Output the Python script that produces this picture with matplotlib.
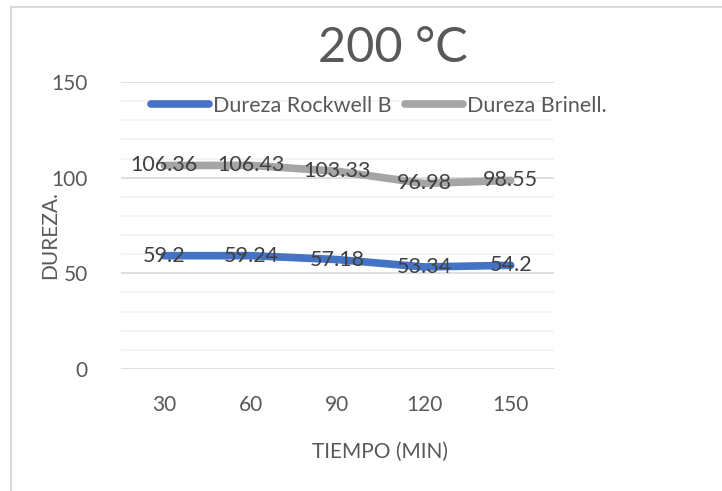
import matplotlib.pyplot as plt
from matplotlib.patches import Rectangle
from matplotlib.ticker import MultipleLocator

plt.rcParams['font.family'] = ['Lato', 'DejaVu Sans']

tiempo = ['30', '60', '90', '120', '150']
rockwell = [59.2, 59.24, 57.18, 53.34, 54.2]
brinell = [106.36, 106.43, 103.33, 96.98, 98.55]

W, H = 722, 491
fig = plt.figure(figsize=(W / 100, H / 100), dpi=100)
fig.patch.set_facecolor('white')

# chart frame (left and top edges visible)
fig.patches.append(Rectangle((11 / W, -0.1), 1.2, 1 - 7 / H + 0.1,
                             transform=fig.transFigure, fill=False,
                             edgecolor='#D9D9D9', linewidth=1.5))

ax = fig.add_axes([121 / W, 1 - 369 / H, (554 - 121) / W, (369 - 82) / H])
x = list(range(len(tiempo)))

ax.plot(x, rockwell, color='#4472C4', linewidth=5.5, solid_capstyle='round',
        label='Dureza Rockwell B', zorder=3)
ax.plot(x, brinell, color='#A5A5A5', linewidth=5.5, solid_capstyle='round',
        label='Dureza Brinell.', zorder=3)

for xi, v in zip(x, rockwell):
    ax.text(xi, v, f'{v:g}', ha='center', va='center', fontsize=15.5,
            color='#404040', zorder=4)
for xi, v in zip(x, brinell):
    ax.text(xi, v, f'{v:g}', ha='center', va='center', fontsize=15.5,
            color='#404040', zorder=4)

ax.set_xlim(-0.5, 4.5)
ax.set_ylim(0, 150)
ax.set_xticks(x)
ax.set_xticklabels(tiempo)
ax.yaxis.set_major_locator(MultipleLocator(50))
ax.yaxis.set_minor_locator(MultipleLocator(10))
ax.grid(which='major', axis='y', color='#D9D9D9', linewidth=1.2)
ax.grid(which='minor', axis='y', color='#F2F2F2', linewidth=1.2)
ax.set_axisbelow(True)
for s in ax.spines.values():
    s.set_visible(False)
ax.tick_params(axis='both', which='both', length=0, labelsize=15,
               labelcolor='#595959')
ax.tick_params(axis='y', pad=24)
ax.tick_params(axis='x', pad=19)

fig.text(393 / W, 1 - 48 / H, '200 °C', ha='center', va='center',
         fontsize=35, color='#595959')
fig.text(380 / W, 1 - 452 / H, 'TIEMPO (MIN)', ha='center', va='center',
         fontsize=15, color='#595959')
fig.text(50 / W, 1 - 235 / H, 'DUREZA.', ha='center', va='center',
         rotation=90, fontsize=15, color='#595959')

fig.legend(loc='center', bbox_to_anchor=(379 / W, 1 - 106 / H), ncol=2,
           frameon=False, fontsize=15.5, handlelength=2.7, handletextpad=0.2,
           columnspacing=0.6, labelcolor='#595959')

fig.savefig('out.png', dpi=100)
